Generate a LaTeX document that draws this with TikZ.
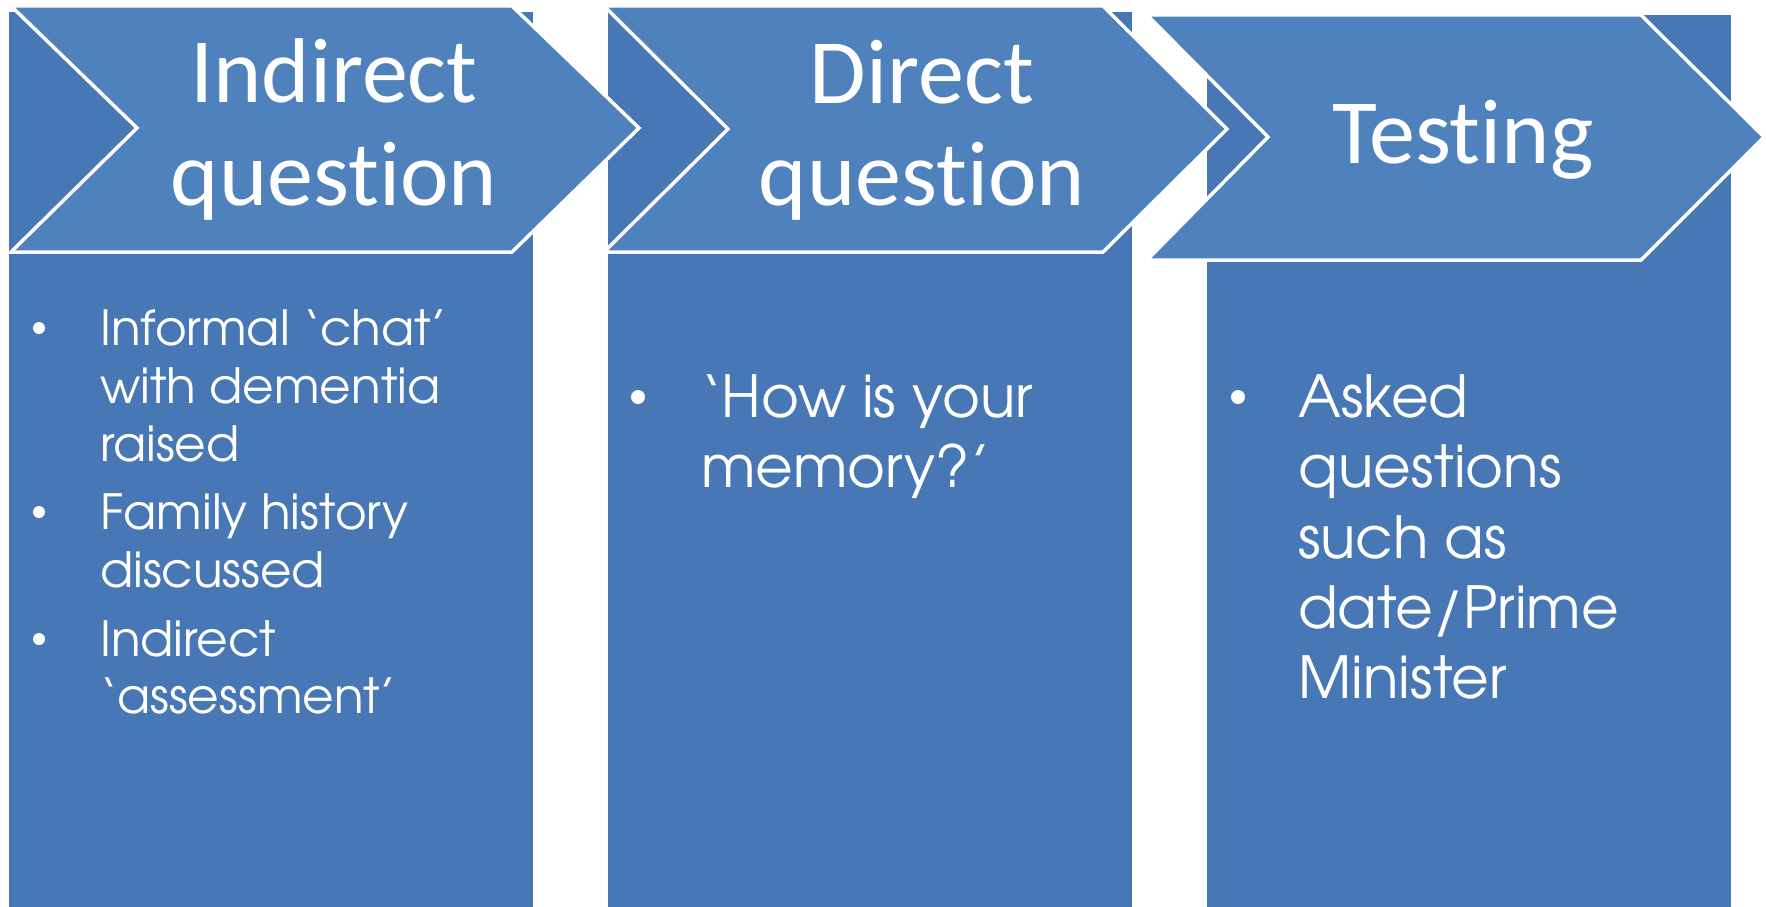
\documentclass[tikz,border=0pt]{standalone}
\usepackage{fontspec}
\setmainfont{Carlito}
\newfontfamily\headfont[Ligatures=NoCommon]{Carlito}
\newfontfamily\bodyfont{texgyreadventor-regular.otf}
\definecolor{chev}{RGB}{79,129,189}
\definecolor{boxblue}{RGB}{71,119,180}
\tikzset{
  chevron/.style={fill=chev, draw=white, line width=3.5pt, line join=miter},
  colbox/.style={fill=boxblue},
  head/.style={text=white, inner sep=0pt, anchor=base, font=\headfont\fontsize{92}{103}\selectfont},
  bodysmall/.style={text=white, inner sep=0pt, anchor=base west, font=\bodyfont\fontsize{48.5}{58}\selectfont},
  bodylarge/.style={text=white, inner sep=0pt, anchor=base west, font=\bodyfont\fontsize{58}{70}\selectfont},
  dotsmall/.style={circle, fill=white, inner sep=0pt, minimum size=12pt},
  dotlarge/.style={circle, fill=white, inner sep=0pt, minimum size=14pt}
}
\begin{document}
\begin{tikzpicture}[x=1pt,y=-1pt]
\useasboundingbox (0,0) rectangle (1766,907);
% column boxes
\fill[colbox] (9,12) rectangle (533,907);
\fill[colbox] (608,12) rectangle (1132,907);
\fill[colbox] (1207,15) rectangle (1731,907);
% chevrons
\draw[chevron] (11,6) -- (512,6) -- (639,128) -- (512,252) -- (11,252) -- (137,128) -- cycle;
\draw[chevron] (604,6) -- (1103,6) -- (1227,129) -- (1103,252) -- (604,252) -- (728,129) -- cycle;
\draw[chevron] (1147,15) -- (1641,15) -- (1764,137) -- (1641,260) -- (1147,260) -- (1268,137) -- cycle;
% headings
\node[head] (h1a) at (334,102) {Indirect};
\node[head] (h1b) at (334,205) {question};
\node[head] (h2a) at (922,103) {Direct};
\node[head] (h2b) at (922,205) {question};
\node[head] (h3a) at (1463,163) {Testing};
% column 1
\node[dotsmall] (b1a) at (39,328) {};
\node[dotsmall] (b1b) at (39,512) {};
\node[dotsmall] (b1c) at (39,639) {};
\node[bodysmall] (t1a) at (100,345) {Informal ‘chat’};
\node[bodysmall] (t1b) at (100,403) {with dementia};
\node[bodysmall] (t1c) at (100,461) {raised};
\node[bodysmall] (t1d) at (100,529) {Family history};
\node[bodysmall] (t1e) at (100,587) {discussed};
\node[bodysmall] (t1f) at (100,656) {Indirect};
\node[bodysmall] (t1g) at (100,713) {‘assessment’};
% column 2
\node[dotlarge] (b2a) at (638,397) {};
\node[bodylarge] (t2a) at (701,417) {‘How is your};
\node[bodylarge] (t2b) at (701,487) {memory?’};
% column 3
\node[dotlarge] (b3a) at (1238,397) {};
\node[bodylarge] (t3a) at (1298,417) {Asked};
\node[bodylarge] (t3b) at (1298,487) {questions};
\node[bodylarge] (t3c) at (1298,558) {such as};
\node[bodylarge] (t3d) at (1298,628) {date/Prime};
\node[bodylarge] (t3e) at (1298,698) {Minister};
\end{tikzpicture}
\end{document}
